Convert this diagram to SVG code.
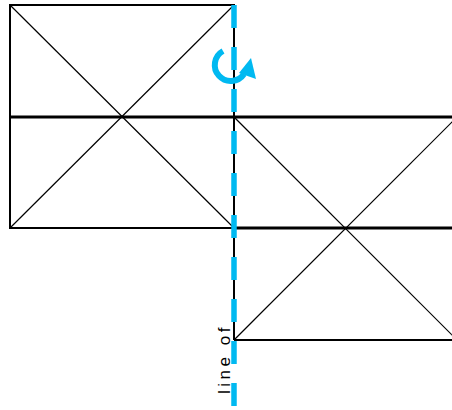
<svg xmlns="http://www.w3.org/2000/svg" width="452" height="410" viewBox="0 0 452 410">
<style>
.edge{stroke:#000;stroke-width:2;fill:none}
.mid{stroke:#000;stroke-width:3;fill:none}
.diag{stroke:#000;stroke-width:1.2;fill:none}
.axis{stroke:#00B9F1;stroke-width:5.5;stroke-dasharray:23 19;fill:none}
.lbl{font-family:"Liberation Sans",Arial,sans-serif;font-size:17px;fill:#000;letter-spacing:3.5px}
</style>
<rect width="452" height="410" fill="#fff"/>
<g id="square-left">
<line class="diag" x1="10" y1="5" x2="234" y2="228"/>
<line class="diag" x1="234" y1="5" x2="10" y2="228"/>
<rect class="edge" x="10" y="5" width="224" height="223"/>
<line class="mid" x1="10" y1="117" x2="234" y2="117"/>
</g>
<g id="square-right">
<line class="diag" x1="234" y1="117" x2="457" y2="340"/>
<line class="diag" x1="457" y1="117" x2="234" y2="340"/>
<line class="mid" x1="234" y1="117" x2="460" y2="117"/>
<line class="mid" x1="234" y1="228" x2="460" y2="228"/>
<line class="edge" x1="234" y1="340" x2="460" y2="340"/>
<line class="edge" x1="234" y1="5" x2="234" y2="340"/>
</g>
<g id="connectors">
<line class="axis" x1="234" y1="5" x2="234" y2="410"/>
<path d="M223 51 A16 16 0 1 0 244 74" fill="none" stroke="#00B9F1" stroke-width="6"/>
<polygon points="239,73 256,79 251,58" fill="#00B9F1"/>
</g>
<g id="label">
<text class="lbl" transform="translate(230,394) rotate(-90)">line of</text>
</g>
</svg>
